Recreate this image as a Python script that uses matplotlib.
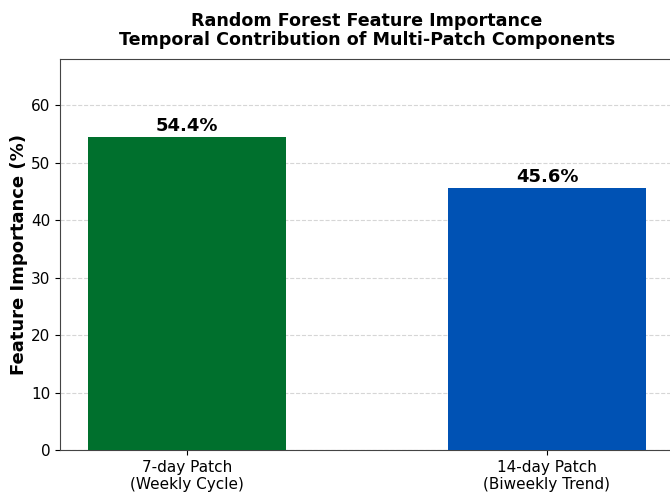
import matplotlib
matplotlib.use("Agg")
import matplotlib.pyplot as plt

categories = ["7-day Patch\n(Weekly Cycle)", "14-day Patch\n(Biweekly Trend)"]
importance = [54.4, 45.6]
bar_colors = ["#00702d", "#0052b4"]

fig = plt.figure(figsize=(6.7, 4.94), dpi=100)
ax = fig.add_axes([60 / 670, 44 / 494, 614 / 670, 391 / 494])

x = range(len(categories))
bars = ax.bar(x, importance, width=0.55, color=bar_colors, zorder=3)

for rect, val in zip(bars, importance):
    ax.text(rect.get_x() + rect.get_width() / 2, val + 0.4, f"{val:.1f}%",
            ha="center", va="bottom", fontsize=13, fontweight="bold")

ax.set_xticks(list(x))
ax.set_xticklabels(categories, fontsize=11)
ax.tick_params(axis="y", labelsize=11)
ax.set_xlim(-0.353, 1.353)
ax.set_ylim(0, 68)
ax.set_ylabel("Feature Importance (%)", fontsize=13, fontweight="bold", labelpad=2)
ax.set_title("Random Forest Feature Importance\nTemporal Contribution of Multi-Patch Components",
             fontsize=12.6, fontweight="bold", pad=10, linespacing=1.05)
ax.yaxis.grid(True, linestyle="--", color="#cccccc", alpha=0.8, zorder=0)
ax.set_axisbelow(True)
for s in ax.spines.values():
    s.set_color("#444444")

fig.savefig("out.png", dpi=100)
